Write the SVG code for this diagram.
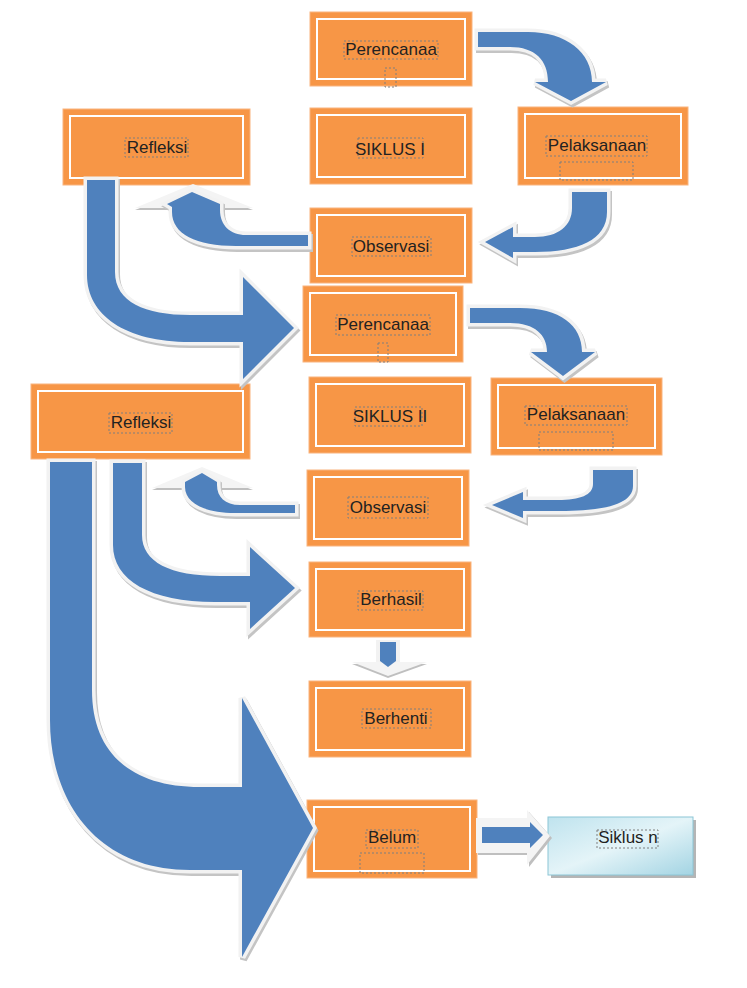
<svg xmlns="http://www.w3.org/2000/svg" xmlns:xlink="http://www.w3.org/1999/xlink" width="747" height="988" viewBox="0 0 747 988">
<defs>
<style>
.box{fill:#F79646;stroke:#f9b47e;stroke-width:1}
.inner{fill:none;stroke:#ffffff;stroke-width:2}
.lbl{font-family:"Liberation Sans",Arial,sans-serif;font-size:17px;fill:#222222;text-anchor:middle}
.dash{fill:none;stroke:#7f7f7f;stroke-width:1;stroke-dasharray:2,2}
.arr{fill:#4F81BD;stroke:#f2f2f2;stroke-width:7;stroke-linejoin:miter;stroke-miterlimit:3;paint-order:stroke}
.shd{fill:#c4c4c4;stroke:#c4c4c4;stroke-width:7;stroke-linejoin:miter;stroke-miterlimit:3}
.wing{fill:#f4f4f4;stroke:none}
.wshd{fill:#bfbfbf;stroke:none}
</style>
<linearGradient id="cyan" x1="0" y1="0" x2="1" y2="1">
<stop offset="0" stop-color="#bfe3ee"/>
<stop offset="0.5" stop-color="#e4f4f8"/>
<stop offset="1" stop-color="#a3d4e3"/>
</linearGradient>
<path id="a1" d="M478,32 L528,32 C566,32 592,52 592,82 L606,82 L571,101 L535,82 L548,82 C548,60 535,47 510,47 L478,47 Z"/>
<path id="a2" d="M572,192 L607,192 L607,212 C607,240 578,252 535,252 L513,252 L513,258 L485,242 L513,227 L513,237 L535,237 C558,237 572,226 572,208 Z"/>
<path id="a3" d="M308,235 L246,235 C230,235 220,225 220,210 L220,204 L192,192 L167,204 L172,207 L172,212 C172,234 196,246 236,246 L308,246 Z"/>
<path id="a4" d="M87,180 L115,180 L115,272 C115,302 145,315 190,315 L243,315 L243,277 L294,328 L243,379 L243,342 L190,342 C125,342 87,315 87,275 Z"/>
<path id="a5" d="M470,308 L520,308 C560,308 582,325 582,352 L595,352 L563,376 L531,352 L547,352 C547,335 535,323 510,323 L470,323 Z"/>
<path id="a6" d="M593,470 L633,470 L633,486 C633,504 605,511 560,511 L523,511 L523,518 L492,505 L523,492 L523,500 L558,500 C580,500 593,495 593,484 Z"/>
<path id="a7" d="M295,505 L240,505 C225,505 217,497 217,485 L217,482 L202,473 L185,482 L185,487 C185,503 205,513 235,513 L295,513 Z"/>
<path id="a8" d="M113,463 L142,463 L142,535 C142,562 170,576 220,576 L250,576 L250,547 L295,588 L250,629 L250,602 L215,602 C150,602 113,580 113,545 Z"/>
<path id="a10" d="M50,462 L92,462 L92,690 C92,752 130,787 200,787 L242,787 L242,698 L313,828 L242,957 L242,870 L190,870 C100,870 50,805 50,720 Z"/>
</defs>
<rect width="747" height="988" fill="#ffffff"/>

<g id="n-perencanaa1">
<rect class="box" x="310" y="12" width="162" height="74"/>
<rect class="inner" x="317" y="19" width="148" height="60"/>
<rect class="dash" x="344" y="41" width="94" height="18"/>
<rect class="dash" x="385" y="68" width="11" height="19"/>
<text class="lbl" x="391" y="55">Perencanaa</text>
</g>
<g id="n-siklus1">
<rect class="box" x="310" y="108" width="162" height="76"/>
<rect class="inner" x="317" y="115" width="148" height="62"/>
<rect class="dash" x="358" y="138" width="65" height="20"/>
<text class="lbl" x="390" y="155">SIKLUS I</text>
</g>
<g id="n-pelaksanaan1">
<rect class="box" x="518" y="107" width="170" height="78"/>
<rect class="inner" x="525" y="114" width="156" height="64"/>
<rect class="dash" x="546" y="136" width="101" height="20"/>
<rect class="dash" x="560" y="162" width="73" height="18"/>
<text class="lbl" x="597" y="151">Pelaksanaan</text>
</g>
<g id="n-refleksi1">
<rect class="box" x="63" y="109" width="187" height="76"/>
<rect class="inner" x="70" y="116" width="173" height="62"/>
<rect class="dash" x="125" y="138" width="63" height="19"/>
<text class="lbl" x="157" y="153">Refleksi</text>
</g>
<g id="n-observasi1">
<rect class="box" x="310" y="208" width="162" height="75"/>
<rect class="inner" x="317" y="215" width="148" height="61"/>
<rect class="dash" x="352" y="237" width="79" height="19"/>
<text class="lbl" x="391" y="252">Observasi</text>
</g>
<g id="n-perencanaa2">
<rect class="box" x="303" y="286" width="160" height="76"/>
<rect class="inner" x="310" y="293" width="146" height="62"/>
<rect class="dash" x="336" y="315" width="94" height="20"/>
<rect class="dash" x="378" y="343" width="10" height="19"/>
<text class="lbl" x="383" y="330">Perencanaa</text>
</g>
<g id="n-siklus2">
<rect class="box" x="309" y="377" width="162" height="76"/>
<rect class="inner" x="316" y="384" width="148" height="62"/>
<rect class="dash" x="355" y="407" width="67" height="19"/>
<text class="lbl" x="390" y="422">SIKLUS II</text>
</g>
<g id="n-pelaksanaan2">
<rect class="box" x="491" y="378" width="171" height="77"/>
<rect class="inner" x="498" y="385" width="157" height="63"/>
<rect class="dash" x="525" y="406" width="102" height="19"/>
<rect class="dash" x="539" y="432" width="74" height="18"/>
<text class="lbl" x="576" y="420">Pelaksanaan</text>
</g>
<g id="n-refleksi2">
<rect class="box" x="31" y="384" width="219" height="75"/>
<rect class="inner" x="38" y="391" width="205" height="61"/>
<rect class="dash" x="109" y="413" width="63" height="20"/>
<text class="lbl" x="141" y="428">Refleksi</text>
</g>
<g id="n-observasi2">
<rect class="box" x="307" y="470" width="162" height="76"/>
<rect class="inner" x="314" y="477" width="148" height="62"/>
<rect class="dash" x="348" y="497" width="80" height="21"/>
<text class="lbl" x="388" y="513">Observasi</text>
</g>
<g id="n-berhasil">
<rect class="box" x="309" y="562" width="162" height="75"/>
<rect class="inner" x="316" y="569" width="148" height="61"/>
<rect class="dash" x="358" y="591" width="65" height="19"/>
<text class="lbl" x="391" y="605">Berhasil</text>
</g>
<g id="n-berhenti">
<rect class="box" x="309" y="681" width="162" height="76"/>
<rect class="inner" x="316" y="688" width="148" height="62"/>
<rect class="dash" x="362" y="709" width="69" height="19"/>
<text class="lbl" x="396" y="724">Berhenti</text>
</g>
<g id="n-belum">
<rect class="box" x="307" y="800" width="170" height="78"/>
<rect class="inner" x="314" y="807" width="156" height="64"/>
<rect class="dash" x="366" y="830" width="52" height="18"/>
<rect class="dash" x="360" y="853" width="64" height="20"/>
<text class="lbl" x="392" y="843">Belum</text>
</g>
<g id="n-siklusn">
<rect x="551" y="820" width="145" height="58" fill="#b5b5b5"/>
<rect x="548" y="817" width="145" height="58" fill="url(#cyan)" stroke="#8cc6d6" stroke-width="1"/>
<rect class="dash" x="597" y="830" width="61" height="18"/>
<text class="lbl" x="628" y="843">Siklus n</text>
</g>

<g id="connectors">
<g id="c1"><use href="#a1" class="shd" transform="translate(1.5,2.5)"/><use href="#a1" class="arr"/></g>
<g id="c2"><use href="#a2" class="shd" transform="translate(1.5,2.5)"/><use href="#a2" class="arr"/></g>
<g id="c3">
<path class="wshd" d="M135,210 L193,187 L253,210 Z"/>
<path class="wing" d="M135,208 L193,184 L253,208 Z"/>
<use href="#a3" class="shd" transform="translate(1.5,2.5)"/><use href="#a3" class="arr"/>
</g>
<g id="c4"><use href="#a4" class="shd" transform="translate(1.5,2.5)"/><use href="#a4" class="arr"/></g>
<g id="c5"><use href="#a5" class="shd" transform="translate(1.5,2.5)"/><use href="#a5" class="arr"/></g>
<g id="c6"><use href="#a6" class="shd" transform="translate(1.5,2.5)"/><use href="#a6" class="arr"/></g>
<g id="c7">
<path class="wshd" d="M152,490 L202,470 L253,490 Z"/>
<path class="wing" d="M152,488 L202,467 L253,488 Z"/>
<use href="#a7" class="shd" transform="translate(1.5,2.5)"/><use href="#a7" class="arr"/>
</g>
<g id="c8"><use href="#a8" class="shd" transform="translate(1.5,2.5)"/><use href="#a8" class="arr"/></g>
<g id="c10"><use href="#a10" class="shd" transform="translate(1.5,2.5)"/><use href="#a10" class="arr"/></g>
<g id="c9">
<path class="wshd" d="M352,664 L388,678 L427,664 Z"/>
<path class="wing" d="M352,662 L388,676 L427,662 Z"/>
<path d="M376,640 L400,640 L400,662 L376,662 Z" fill="#f2f2f2"/>
<path d="M380,642 L396,642 L396,661 L388,667 L380,661 Z" fill="#4F81BD"/>
</g>
<g id="c11">
<path class="wshd" d="M478,820 L529,820 L529,812 L552,838 L529,867 L529,855 L478,855 Z"/>
<path class="wing" d="M476,818 L527,818 L527,810 L550,836 L527,865 L527,853 L476,853 Z"/>
<path d="M482,827 L530,827 L530,822 L543,835 L530,848 L530,843 L482,843 Z" fill="#4F81BD"/>
</g>
</g>
</svg>
